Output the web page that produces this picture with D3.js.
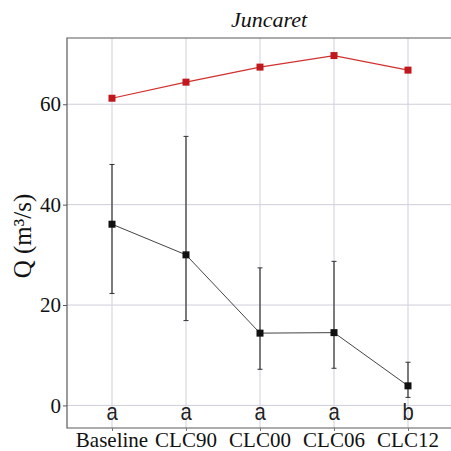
<!DOCTYPE html>
<html>
<head>
<meta charset="utf-8">
<script src="https://cdn.jsdelivr.net/npm/d3@7"></script>
<style>
  body { margin: 0; background: #fff; }
  svg { display: block; }
</style>
</head>
<body>
<div id="chart"></div>
<script>
const categories = ["Baseline", "CLC90", "CLC00", "CLC06", "CLC12"];
const redValues = [61.2, 64.4, 67.4, 69.7, 66.8];
const blackValues = [36.1, 30.0, 14.4, 14.5, 3.9];
const blackUpper = [48.0, 53.6, 27.4, 28.7, 8.6];
const blackLower = [22.3, 16.9, 7.2, 7.4, 1.6];
const groupLetters = ["a", "a", "a", "a", "b"];
const yTicks = [0, 20, 40, 60];

const width = 451, height = 451;
const margin = { top: 38, right: 0, bottom: 23, left: 67 };

const svg = d3.select("#chart").append("svg")
    .attr("width", width)
    .attr("height", height);

const x = d3.scalePoint()
    .domain(categories)
    .range([112, 408]);

const y = d3.scaleLinear()
    .domain([-4.5, 73.2])
    .range([height - margin.bottom, margin.top]);

// grid
svg.append("g").selectAll("line.v")
    .data(categories)
    .join("line")
    .attr("x1", d => x(d)).attr("x2", d => x(d))
    .attr("y1", margin.top).attr("y2", height - margin.bottom)
    .attr("stroke", "#cfcfdc").attr("stroke-width", 1);

svg.append("g").selectAll("line.h")
    .data(yTicks)
    .join("line")
    .attr("x1", margin.left).attr("x2", width)
    .attr("y1", d => y(d)).attr("y2", d => y(d))
    .attr("stroke", "#cfcfdc").attr("stroke-width", 1);

// frame: top, left, bottom
svg.append("path")
    .attr("d", `M${width},${margin.top}H${margin.left}V${height - margin.bottom}H${width}`)
    .attr("fill", "none").attr("stroke", "#5a5a5a").attr("stroke-width", 1.2);

// y axis
const yAxis = d3.axisLeft(y).tickValues(yTicks).tickSize(4).tickPadding(2);
const yg = svg.append("g")
    .attr("transform", `translate(${margin.left},0)`)
    .call(yAxis);
yg.select(".domain").remove();
yg.selectAll(".tick line").attr("stroke", "#5a5a5a");
yg.selectAll(".tick text")
    .attr("fill", "#111")
    .style("font", "21px 'Liberation Serif', 'Times New Roman', serif");

// x axis ticks + labels
const xAxis = d3.axisBottom(x).tickSize(3).tickPadding(4);
const xg = svg.append("g")
    .attr("transform", `translate(0,${height - margin.bottom})`)
    .call(xAxis);
xg.select(".domain").remove();
xg.selectAll(".tick line").attr("stroke", "#777");
xg.selectAll(".tick text").remove();

svg.append("g").selectAll("text")
    .data(categories)
    .join("text")
    .attr("x", d => x(d))
    .attr("y", 447)
    .attr("text-anchor", "middle")
    .attr("fill", "#111")
    .style("font", "21px 'Liberation Serif', 'Times New Roman', serif")
    .text(d => d);

// title
svg.append("text")
    .attr("x", 269).attr("y", 27)
    .attr("text-anchor", "middle")
    .attr("fill", "#111")
    .style("font", "italic 22px 'Liberation Serif', 'Times New Roman', serif")
    .text("Juncaret");

// y label
svg.append("text")
    .attr("transform", "translate(31,236) rotate(-90)")
    .attr("text-anchor", "middle")
    .attr("fill", "#111")
    .style("font", "25px 'Liberation Serif', 'Times New Roman', serif")
    .text("Q (m\u00B3/s)");

// error bars (black series)
const err = svg.append("g");
categories.forEach((c, i) => {
    const cx = x(c);
    err.append("line")
        .attr("x1", cx).attr("x2", cx)
        .attr("y1", y(blackUpper[i])).attr("y2", y(blackLower[i]))
        .attr("stroke", "#333").attr("stroke-width", 1.2);
    [blackUpper[i], blackLower[i]].forEach(v => {
        err.append("line")
            .attr("x1", cx - 2.5).attr("x2", cx + 2.5)
            .attr("y1", y(v)).attr("y2", y(v))
            .attr("stroke", "#333").attr("stroke-width", 1);
    });
});

const line = d3.line()
    .x((d, i) => x(categories[i]))
    .y(d => y(d));

// black series
svg.append("path")
    .datum(blackValues)
    .attr("d", line)
    .attr("fill", "none").attr("stroke", "#444").attr("stroke-width", 1);

svg.append("g").selectAll("rect")
    .data(blackValues)
    .join("rect")
    .attr("x", (d, i) => x(categories[i]) - 3.5)
    .attr("y", d => y(d) - 3.5)
    .attr("width", 7).attr("height", 7)
    .attr("fill", "#111");

// red series
svg.append("path")
    .datum(redValues)
    .attr("d", line)
    .attr("fill", "none").attr("stroke", "#d0302e").attr("stroke-width", 1.2);

svg.append("g").selectAll("rect")
    .data(redValues)
    .join("rect")
    .attr("x", (d, i) => x(categories[i]) - 3.5)
    .attr("y", d => y(d) - 3.5)
    .attr("width", 7).attr("height", 7)
    .attr("fill", "#c0181c");

// group letters
svg.append("g").selectAll("text")
    .data(groupLetters)
    .join("text")
    .attr("transform", (d, i) => `translate(${x(categories[i])},420) scale(0.88,1)`)
    .attr("text-anchor", "middle")
    .attr("fill", "#222")
    .style("font", "23px 'Liberation Sans', Arial, sans-serif")
    .text(d => d);
</script>
</body>
</html>
